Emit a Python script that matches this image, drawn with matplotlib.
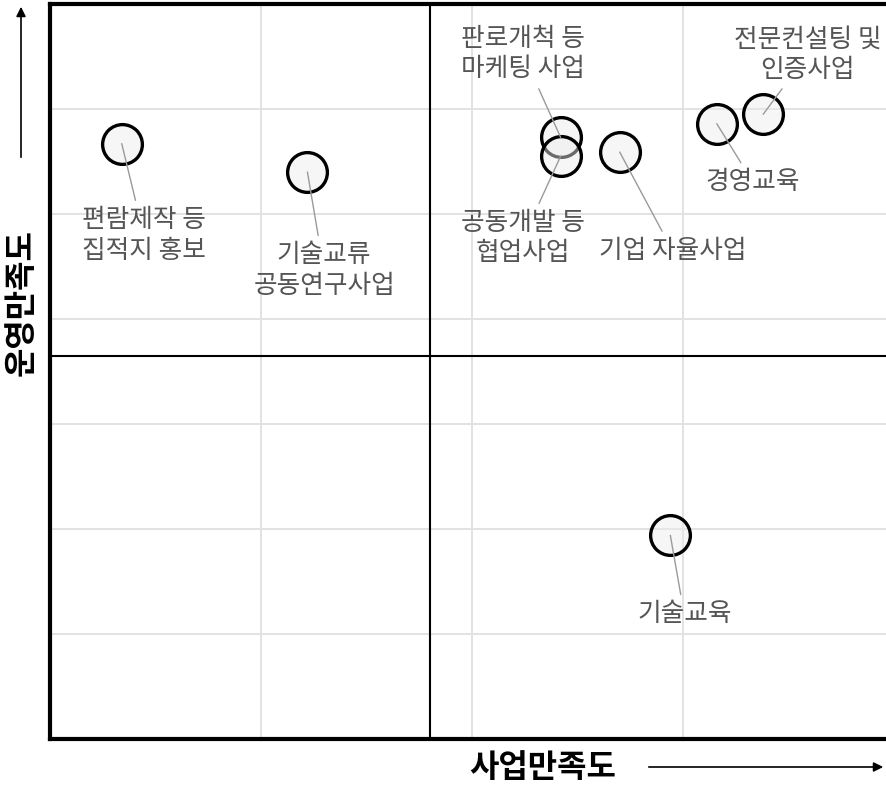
import matplotlib
matplotlib.use('Agg')
import matplotlib.pyplot as plt

plt.rcParams['font.family'] = ['Noto Sans CJK KR', 'DejaVu Sans']

# 사업별 만족도 (x: 사업만족도, y: 운영만족도)
programs = ['편람제작 등\n집적지 홍보', '기술교류\n공동연구사업', '판로개척 등\n마케팅 사업',
            '공동개발 등\n협업사업', '기업 자율사업', '경영교육', '전문컨설팅 및\n인증사업', '기술교육']
biz_sat = [3.534, 3.622, 3.742, 3.742, 3.770, 3.816, 3.838, 3.794]
op_sat = [3.867, 3.840, 3.873, 3.855, 3.859, 3.886, 3.895, 3.494]
x_mid = 3.68
y_mid = 3.665

# 라벨 위치 (offset points)
offsets = [(16, -66), (12, -71), (-27, 60), (-27, -59), (38, -71), (26, -42), (32, 43), (10, -57)]

fig = plt.figure(figsize=(8.86, 7.87), dpi=100)
ax = fig.add_axes([50 / 886, 48 / 787, 844 / 886, 735 / 787])

ax.set_xlim(3.5, 3.9)
ax.set_ylim(3.3, 4.0)
ax.set_xticks([3.6, 3.7, 3.8])
ax.set_yticks([3.4, 3.5, 3.6, 3.7, 3.8, 3.9])
ax.grid(True, color='#e2e2e2', linewidth=1.4, zorder=0)
ax.set_axisbelow(True)
ax.tick_params(length=0, labelbottom=False, labelleft=False)

for side in ['left', 'bottom', 'top']:
    ax.spines[side].set_linewidth(3)
    ax.spines[side].set_color('black')
ax.spines['right'].set_visible(False)

ax.axvline(x_mid, color='black', linewidth=1.5, zorder=1)
ax.axhline(y_mid, color='black', linewidth=1.5, zorder=1)

ax.scatter(biz_sat, op_sat, s=820, facecolors=(0.93, 0.93, 0.93, 0.45),
           edgecolors='black', linewidths=2.4, zorder=2)

for name, x, y, off in zip(programs, biz_sat, op_sat, offsets):
    ax.annotate(name, xy=(x, y), xytext=off, textcoords='offset points',
                ha='center', va='center', multialignment='center',
                fontsize=18.5, color='#555555', linespacing=1.22,
                arrowprops=dict(arrowstyle='-', color='#9a9a9a', lw=1.0,
                                shrinkA=3, shrinkB=0),
                zorder=3)

# 축 제목과 화살표
fig.text(22 / 886, (787 - 303) / 787, '운영만족도', rotation=90, ha='center', va='center',
         fontsize=23, fontweight='bold', color='black')
fig.text(543 / 886, (787 - 768) / 787, '사업만족도', ha='center', va='center',
         fontsize=23, fontweight='bold', color='black')
fig.add_artist(matplotlib.patches.FancyArrowPatch(
    (21 / 886, (787 - 160) / 787), (21 / 886, (787 - 4) / 787), transform=fig.transFigure,
    arrowstyle='-|>', mutation_scale=14, lw=1.2, color='black'))
fig.add_artist(matplotlib.patches.FancyArrowPatch(
    (646 / 886, (787 - 767) / 787), (886 / 886, (787 - 767) / 787), transform=fig.transFigure,
    arrowstyle='-|>', mutation_scale=14, lw=1.2, color='black'))

fig.savefig('out.png', dpi=100)
